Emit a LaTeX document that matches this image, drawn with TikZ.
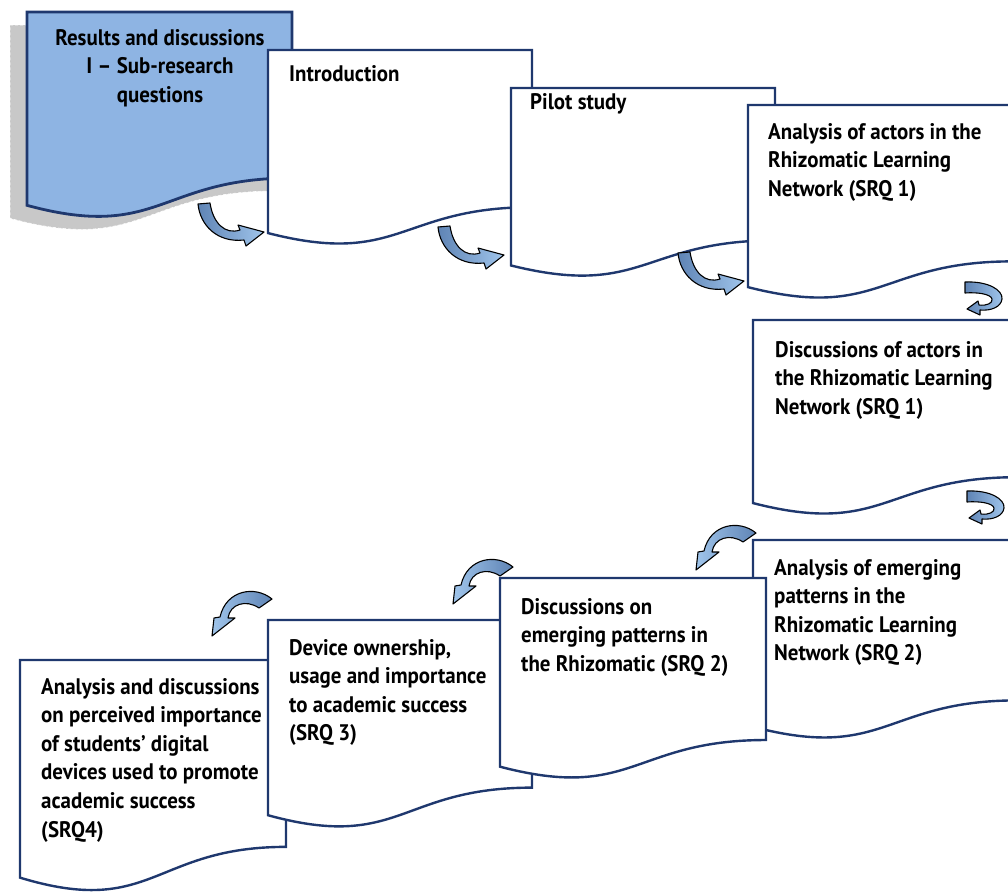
\documentclass[tikz,border=0pt]{standalone}
\usepackage{fontspec}
\setmainfont{PT Sans}[FakeStretch=0.93]
\definecolor{navy}{RGB}{31,56,110}
\definecolor{leadblue}{RGB}{142,180,227}
\definecolor{shadowgrey}{RGB}{200,200,200}
\definecolor{turndark}{RGB}{95,132,181}
\definecolor{turnlight}{RGB}{160,197,235}
% wavy-bottom document outline: left, top, width, height
\newcommand\docpath[4]{(#1,#2) -- ({#1+#3},#2) -- ({#1+#3},{#2+0.802*#4})
  .. controls ({#1+0.5*#3},{#2+0.802*#4}) and ({#1+0.5*#3},{#2+1.1075*#4}) .. (#1,{#2+0.934*#4}) -- cycle}
\begin{document}
\begin{tikzpicture}[x=1pt,y=-1pt,
  docbox/.style={draw=navy, line width=2.4pt, fill=white, line join=miter},
  leadbox/.style={docbox, fill=leadblue, line width=2.8pt},
  boxtext/.style={anchor=base west, align=left, inner sep=0pt,
    font=\fontsize{22.5}{28.6}\selectfont\bfseries},
  turnarrow/.style={draw=black, line width=1.1pt, line join=round},
  rightturn/.style={turnarrow, left color=turndark, right color=turnlight},
  leftturn/.style={turnarrow, left color=turnlight, right color=turndark}]
\useasboundingbox (0,0) rectangle (1008,892);
\clip (0,0) rectangle (1008,892);

% lead box with its shadow
\path[fill=shadowgrey, draw=white, line width=0.6pt, dash pattern=on 3pt off 2pt] \docpath{10}{25}{265}{207};
\path[leadbox] \docpath{27}{12}{265}{207};
% multi-line nodes sit on the baseline of their last line
\node[boxtext, anchor=base, align=center] (lead) at (160,102.2)
  {Results and discussions\\I – Sub-research\\questions};

% top row
\path[docbox] \docpath{268}{50}{264}{196};
\node[boxtext] (intro) at (289,81) {Introduction};
\path[docbox] \docpath{511}{88}{264}{190};
\node[boxtext] (pilot) at (530,109) {Pilot study};
\path[docbox] \docpath{748}{105}{264}{195};
\node[boxtext] (actors) at (768,196.2) {Analysis of actors in the\\Rhizomatic Learning\\Network (SRQ 1)};

% right column
\path[docbox] \docpath{753}{320}{264}{196};
\node[boxtext] (actdisc) at (775,414.2) {Discussions of actors in\\the Rhizomatic Learning\\Network (SRQ 1)};
\path[docbox] \docpath{753}{540}{264}{200};
\node[boxtext] (patterns) at (774,660.8) {Analysis of emerging\\patterns in the\\Rhizomatic Learning\\Network (SRQ 2)};

% bottom row
\path[docbox] \docpath{20}{660}{266}{233};
\node[boxtext] (devices) at (41,837) {Analysis and discussions\\on perceived importance\\of students’ digital\\devices used to promote\\academic success\\(SRQ4)};
\path[docbox] \docpath{268}{620}{264}{209};
\node[boxtext] (ownership) at (289,740.8) {Device ownership,\\usage and importance\\to academic success\\(SRQ 3)};
\path[docbox] \docpath{500}{578}{266}{202};
\node[boxtext] (patdisc) at (521,671.2) {Discussions on\\emerging patterns in\\the Rhizomatic (SRQ 2)};

% curved arrows, top row
\foreach \ox/\oy in {197/203, 437/226, 677/252}{
  \begin{scope}[shift={(\ox,\oy)}]
    \path[rightturn] (1,1) .. controls (3,22) and (20,40) .. (47,37) -- (49,43) -- (67,29)
      -- (41,22) -- (43,27) .. controls (28,32) and (16,20) .. (13,0) -- cycle;
  \end{scope}}
% curved arrows, right column
\foreach \ox/\oy in {963/282, 965/491}{
  \begin{scope}[shift={(\ox,\oy)}]
    \path[rightturn] (2,0) .. controls (25,-1) and (40,8) .. (39,17) .. controls (38,25) and (28,29) .. (17,28)
      -- (17,33) -- (4,27) -- (15,19) -- (16,23) .. controls (24,24) and (30,21) .. (29,17)
      .. controls (28,12) and (14,10) .. (2,11) -- cycle;
  \end{scope}}
% curved arrows, bottom row
\foreach \ox/\oy in {694/522, 451/556, 210/588}{
  \begin{scope}[shift={(\ox,\oy)}]
    \path[leftturn] (62,11) .. controls (45,-3) and (16,2) .. (10,29) -- (4,30) -- (2,48)
      -- (25,30) -- (18,30) .. controls (20,16) and (36,11) .. (49,20) -- cycle;
  \end{scope}}
\end{tikzpicture}
\end{document}
